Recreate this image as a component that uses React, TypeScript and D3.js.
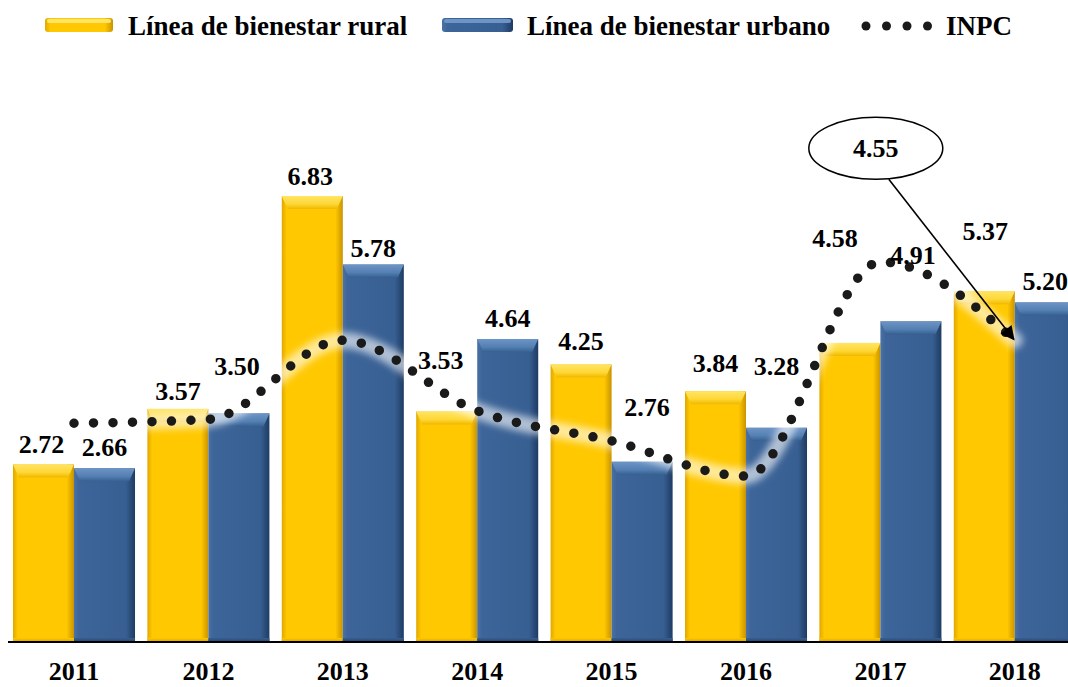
import React from "react";
import * as d3 from "d3";

// ---- Data ----
const years = ["2011", "2012", "2013", "2014", "2015", "2016", "2017", "2018"];
const rural = [2.72, 3.57, 6.83, 3.53, 4.25, 3.84, 4.58, 5.37];
const urbano = [2.66, 3.5, 5.78, 4.64, 2.76, 3.28, 4.91, 5.2];
const inpc = [3.35, 3.41, 4.62, 3.54, 3.08, 2.54, 5.82, 4.62];
const inpcAnnotation = "4.55";
const seriesNames = ["Línea de bienestar rural", "Línea de bienestar urbano", "INPC"];

// ---- Layout (label placement, px) ----
const ruralLabelLift = [11, 9, 11, 42, 14, 19, 96, 51];
const ruralLabelShift = [-2, 0, -2, -6, 0, 0, -15, 1];
const urbanLabelLift = [12, 38, 8, 12, 46, 53, 57, 12];
const urbanLabelShift = [0, -2, 0, 0, 5, 0, 2, 0];

const W = 1068;
const H = 687;
const BASE = 642;
const FONT = "'Times New Roman', 'Liberation Serif', serif";

const x0 = d3
  .scaleBand<string>()
  .domain(years)
  .range([6.8, 1082])
  .paddingInner(0.092)
  .paddingOuter(0.046);
const x1 = d3
  .scaleBand<string>()
  .domain(["rural", "urbano"])
  .range([0, x0.bandwidth()]);
const y = d3.scaleLinear().domain([0, 7]).range([BASE, BASE - 7 * 65.3]);

const inpcLine = d3
  .line<number>()
  .x((_, i) => (x0(years[i]) as number) + x0.bandwidth() / 2)
  .y((d) => y(d))
  .curve(d3.curveMonotoneX);

function Bar({ x, top, w, kind }: { x: number; top: number; w: number; kind: string }) {
  const h = BASE - top;
  const bev = Math.min(13, h / 2);
  const inset = 6;
  return (
    <g>
      <rect x={x} y={top} width={w} height={h} fill={`url(#side-${kind})`} />
      <polygon
        points={`${x},${top} ${x + w},${top} ${x + w - inset},${top + bev} ${x + inset},${top + bev}`}
        fill={`url(#top-${kind})`}
      />
      <rect x={x} y={BASE - 4} width={w} height={4} fill={`url(#bot-${kind})`} />
    </g>
  );
}

export default function App() {
  const pts = inpc.map((v, i) => [(x0(years[i]) as number) + x0.bandwidth() / 2, y(v)]);
  const last = pts[pts.length - 1];
  const ell = { cx: last[0] - 139, cy: last[1] - 192, rx: 67, ry: 31 };
  const arrowStart = [ell.cx + 13, ell.cy + ell.ry];
  const bw = x1.bandwidth();

  return (
    <svg
      width={W}
      height={H}
      style={{ position: "absolute", left: 0, top: 0, background: "#fff" }}
      fontFamily={FONT}
    >
      <defs>
        <linearGradient id="side-rural" x1="0" x2="1" y1="0" y2="0">
          <stop offset="0" stopColor="#e0a800" />
          <stop offset="0.08" stopColor="#ffc800" />
          <stop offset="0.88" stopColor="#ffc800" />
          <stop offset="1" stopColor="#c99300" />
        </linearGradient>
        <linearGradient id="top-rural" x1="0" x2="0" y1="0" y2="1">
          <stop offset="0" stopColor="#ffe466" />
          <stop offset="0.6" stopColor="#ffd836" />
          <stop offset="1" stopColor="#f0b800" />
        </linearGradient>
        <linearGradient id="bot-rural" x1="0" x2="0" y1="0" y2="1">
          <stop offset="0" stopColor="#ffc800" />
          <stop offset="1" stopColor="#d9a200" />
        </linearGradient>
        <linearGradient id="side-urbano" x1="0" x2="1" y1="0" y2="0">
          <stop offset="0" stopColor="#4a72a4" />
          <stop offset="0.08" stopColor="#3d6599" />
          <stop offset="0.85" stopColor="#385f92" />
          <stop offset="1" stopColor="#1e3b63" />
        </linearGradient>
        <linearGradient id="top-urbano" x1="0" x2="0" y1="0" y2="1">
          <stop offset="0" stopColor="#6d94c4" />
          <stop offset="0.6" stopColor="#5580b4" />
          <stop offset="1" stopColor="#35608f" />
        </linearGradient>
        <linearGradient id="bot-urbano" x1="0" x2="0" y1="0" y2="1">
          <stop offset="0" stopColor="#385f92" />
          <stop offset="1" stopColor="#25446e" />
        </linearGradient>
        <filter id="glow" x="-10%" y="-30%" width="120%" height="160%">
          <feGaussianBlur stdDeviation="3.5" />
        </filter>
        <marker
          id="arrow"
          viewBox="0 0 10 10"
          refX="9"
          refY="5"
          markerWidth="16"
          markerHeight="14"
          markerUnits="userSpaceOnUse"
          orient="auto"
        >
          <path d="M0,0 L10,5 L0,10 z" fill="#000" />
        </marker>
      </defs>

      {/* Legend */}
      <g>
        <rect x={45} y={18} width={68} height={14} rx={3} fill="url(#side-rural)" />
        <rect x={47} y={19} width={64} height={4} rx={2} fill="#ffe466" />
        <text x={128} y={35} fontSize={27} fontWeight="bold">
          {seriesNames[0]}
        </text>
        <rect x={442} y={18} width={71} height={14} rx={3} fill="url(#side-urbano)" />
        <rect x={444} y={19} width={67} height={4} rx={2} fill="#6d94c4" />
        <text x={527} y={35} fontSize={27} fontWeight="bold">
          {seriesNames[1]}
        </text>
        {[0, 1, 2, 3].map((i) => (
          <circle key={i} cx={866 + i * 20.5} cy={26} r={4.5} fill="#1a1a1a" />
        ))}
        <text x={946} y={35} fontSize={27} fontWeight="bold">
          {seriesNames[2]}
        </text>
      </g>

      {/* Bars */}
      {years.map((yr, i) => {
        const gx = x0(yr) as number;
        return (
          <g key={yr}>
            <Bar x={gx + (x1("rural") as number)} top={y(rural[i])} w={bw} kind="rural" />
            <Bar x={gx + (x1("urbano") as number)} top={y(urbano[i])} w={bw} kind="urbano" />
          </g>
        );
      })}

      {/* Axis line */}
      <line x1={8} x2={W} y1={BASE} y2={BASE} stroke="#000" strokeWidth={2} />
      {years.map((yr) => (
        <text
          key={yr}
          x={(x0(yr) as number) + x0.bandwidth() / 2}
          y={680}
          textAnchor="middle"
          fontSize={26}
          fontWeight="bold"
        >
          {yr}
        </text>
      ))}

      {/* INPC dotted line */}
      <path
        d={inpcLine(inpc) || ""}
        fill="none"
        stroke="#ffffff"
        strokeOpacity={0.6}
        strokeWidth={16}
        strokeLinecap="round"
        filter="url(#glow)"
      />
      <path
        d={inpcLine(inpc) || ""}
        fill="none"
        stroke="#1a1a1a"
        strokeWidth={9.5}
        strokeLinecap="round"
        strokeDasharray="0 19.5"
      />

      {/* Value labels */}
      {years.map((yr, i) => {
        const gx = x0(yr) as number;
        const rx = gx + (x1("rural") as number) + bw / 2 + ruralLabelShift[i];
        const ux = gx + (x1("urbano") as number) + bw / 2 + urbanLabelShift[i];
        return (
          <g key={yr} fontSize={26} fontWeight="bold" textAnchor="middle">
            <text x={rx} y={y(rural[i]) - ruralLabelLift[i]}>
              {rural[i].toFixed(2)}
            </text>
            <text x={ux} y={y(urbano[i]) - urbanLabelLift[i]}>
              {urbano[i].toFixed(2)}
            </text>
          </g>
        );
      })}

      {/* Annotation */}
      <ellipse cx={ell.cx} cy={ell.cy} rx={ell.rx} ry={ell.ry} fill="#fff" stroke="#000" strokeWidth={1.5} />
      <text x={ell.cx} y={ell.cy + 9} textAnchor="middle" fontSize={26} fontWeight="bold">
        {inpcAnnotation}
      </text>
      <line
        x1={arrowStart[0]}
        y1={arrowStart[1]}
        x2={last[0] - 1}
        y2={last[1] - 1}
        stroke="#000"
        strokeWidth={1.6}
        markerEnd="url(#arrow)"
      />
    </svg>
  );
}
